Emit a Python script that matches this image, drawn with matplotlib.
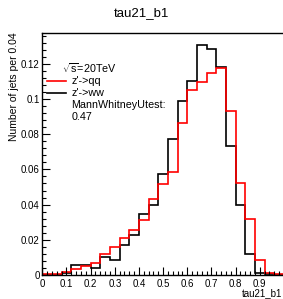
import numpy as np
import matplotlib.pyplot as plt
from matplotlib.ticker import MultipleLocator, FixedLocator

plt.rcParams['font.family'] = ['Liberation Sans', 'DejaVu Sans']
plt.rcParams['mathtext.fontset'] = 'custom'
plt.rcParams['mathtext.rm'] = 'Liberation Sans'
plt.rcParams['mathtext.it'] = 'Liberation Sans'

# tau21_b1 histograms, 25 bins from 0 to 1
bin_edges = np.linspace(0, 1, 26)
zqq = [0.0008, 0.0004, 0.0015, 0.0032, 0.0053, 0.0070, 0.0119, 0.0160, 0.0212,
       0.0258, 0.0312, 0.0430, 0.0515, 0.0587, 0.0865, 0.1050, 0.1095, 0.1150,
       0.1178, 0.0934, 0.0521, 0.0320, 0.0088, 0.0010, 0.0005]
zww = [0.0, 0.0, 0.0011, 0.0055, 0.0055, 0.0038, 0.0100, 0.0087, 0.0169,
       0.0225, 0.0345, 0.0398, 0.0572, 0.0771, 0.0989, 0.1104, 0.1307, 0.1286,
       0.1180, 0.0735, 0.0398, 0.0118, 0.0010, 0.0004, 0.0]
mwu = 0.47
xticks = [0, 0.1, 0.2, 0.3, 0.4, 0.5, 0.6, 0.7, 0.8, 0.9]

fig = plt.figure(figsize=(2.83, 2.99), dpi=100)
ax = fig.add_axes([0.1495, 0.0803, 0.854, 0.8094])

ax.stairs(zww, bin_edges, color='black', lw=1.2)
ax.stairs(zqq, bin_edges, color='red', lw=1.2)

ax.set_xlim(0, 1)
ax.set_ylim(0, 0.1375)
ax.xaxis.set_major_locator(FixedLocator(xticks))
ax.xaxis.set_minor_locator(MultipleLocator(0.02))
ax.yaxis.set_major_locator(MultipleLocator(0.02))
ax.yaxis.set_minor_locator(MultipleLocator(0.004))
ax.tick_params(which='both', direction='in', labelsize=7, width=0.8)
ax.tick_params(which='major', length=6)
ax.tick_params(which='minor', length=3)
ax.tick_params(axis='x', pad=3)
ax.tick_params(axis='y', pad=2)
ax.xaxis.set_major_formatter(plt.FuncFormatter(lambda v, p: f'{v:g}'))
ax.yaxis.set_major_formatter(plt.FuncFormatter(lambda v, p: f'{v:g}'))
for s in ax.spines.values():
    s.set_linewidth(1.0)

fig.text(0.5, 0.955, 'tau21_b1', ha='center', va='center', fontsize=9.5)
fig.text(0.997, 0.02, 'tau21_b1', ha='right', va='center', fontsize=7)
fig.text(0.048, 0.893, 'Number of jets per 0.04', rotation=90, ha='center', va='top', fontsize=7.5)

# legend by hand, like the ROOT box
lx = 0.121
fs = 7.75
ax.text(0.08, 0.855, r'$\sqrt{s}$=20TeV', transform=ax.transAxes, fontsize=fs, va='center')
ax.plot([0.018, 0.10], [0.803, 0.803], transform=ax.transAxes, color='red', lw=1.2)
ax.text(lx, 0.803, "z'->qq", transform=ax.transAxes, fontsize=fs, va='center')
ax.plot([0.018, 0.10], [0.752, 0.752], transform=ax.transAxes, color='black', lw=1.2)
ax.text(lx, 0.752, "z'->ww", transform=ax.transAxes, fontsize=fs, va='center')
ax.text(lx, 0.702, 'MannWhitneyUtest:', transform=ax.transAxes, fontsize=fs, va='center')
ax.text(lx, 0.651, f'{mwu:.2f}', transform=ax.transAxes, fontsize=fs, va='center')

fig.savefig('out.png', dpi=100)
